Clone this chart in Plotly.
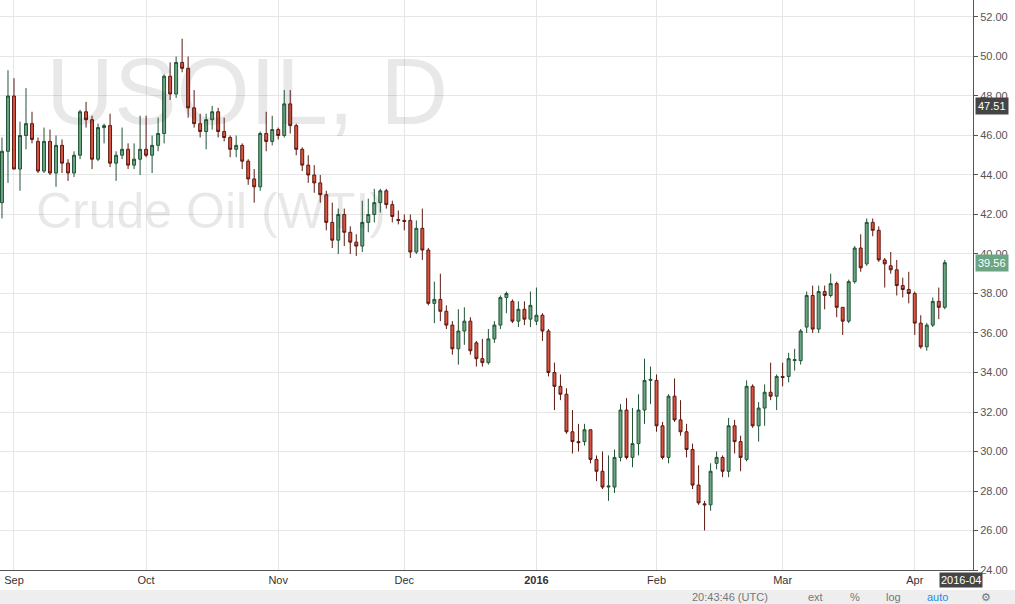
import plotly.graph_objects as go

opens = [42.6,45.2,48.0,44.3,46.0,46.6,45.7,44.2,45.7,44.1,45.5,44.6,44.1,45.0,47.2,46.8,44.8,46.4,46.5,44.6,
 45.0,45.3,44.5,44.8,45.3,45.0,45.5,46.1,49.0,48.1,49.7,49.4,47.4,46.6,46.2,46.8,47.2,46.2,45.9,45.3,
 45.5,44.7,43.8,43.4,46.1,45.7,46.3,46.0,47.6,46.5,45.3,44.5,44.0,43.6,43.0,41.6,40.7,42.0,41.1,40.6,
 40.4,41.6,42.0,42.6,43.2,42.5,41.75,41.7,41.7,40.1,41.3,40.2,37.5,37.7,37.1,36.4,35.2,36.1,36.6,35.5,
 34.7,34.5,35.7,36.4,37.8,37.6,36.6,37.2,36.7,36.6,36.9,36.1,34.0,33.3,32.9,31.0,30.5,30.5,31.1,29.6,
 29.0,28.2,28.2,29.7,32.1,29.7,30.4,32.1,33.6,33.6,31.3,29.7,32.8,31.6,31.0,30.1,28.3,27.35,27.3,29.4,
 29.7,29.0,31.3,30.5,29.6,33.3,31.3,32.2,33.0,32.8,33.8,33.8,34.6,34.6,36.3,37.9,36.2,38.1,37.9,38.5,
 37.3,36.6,38.6,40.3,39.5,41.6,41.2,39.7,39.4,39.2,38.4,38.2,38.0,36.5,35.3,36.4,37.6,37.3]
closes = [45.2,48.0,44.3,46.0,46.6,45.8,44.2,45.7,44.1,45.5,44.6,44.1,45.0,47.2,46.8,44.8,46.4,46.5,44.6,45.0,
 45.3,44.5,44.8,45.3,45.0,45.5,46.1,49.0,48.1,49.7,49.4,47.4,46.6,46.2,46.8,47.2,46.2,45.9,45.3,45.5,
 44.7,43.8,43.4,46.1,45.7,46.3,46.0,47.6,46.5,45.3,44.5,44.0,43.6,43.0,41.6,40.7,42.0,41.1,40.6,40.4,
 41.6,42.0,42.6,43.2,42.5,41.9,41.7,41.65,40.1,41.3,40.2,37.5,37.7,37.1,36.4,35.2,36.1,36.6,35.1,34.7,
 34.5,35.7,36.4,37.8,38.0,36.6,37.2,36.7,37.4,36.9,36.1,34.0,33.3,32.9,31.0,30.5,30.45,31.1,29.6,29.0,
 28.2,28.25,29.7,32.1,29.7,30.4,32.1,33.6,33.65,31.3,29.7,32.8,31.6,31.0,30.1,28.3,27.4,27.3,29.0,29.7,
 29.0,31.3,30.5,29.7,33.3,31.3,32.2,33.0,32.8,33.8,33.75,34.7,34.65,36.1,37.9,36.2,38.1,37.9,38.5,37.3,
 36.6,38.6,40.3,39.3,41.6,41.2,39.7,39.5,39.2,38.4,38.2,38.0,36.5,35.3,36.4,37.6,37.3,39.56]
highs = [45.9,49.3,48.9,46.7,48.4,47.2,45.9,46.4,46.3,46.0,45.8,44.8,45.2,47.3,47.7,47.0,46.6,46.6,47.1,45.2,
 46.4,45.6,45.6,47.0,47.0,46.0,46.9,49.1,49.7,50.0,50.9,50.0,48.3,47.1,47.1,47.5,47.4,46.9,46.0,46.0,
 45.6,44.8,44.3,46.2,47.2,47.0,46.4,48.3,48.3,46.6,45.4,45.0,44.5,44.0,43.2,42.6,42.3,42.3,41.4,41.0,
 42.7,42.8,43.3,43.3,43.3,42.7,42.2,42.0,42.0,41.7,42.3,40.3,38.6,39.0,37.4,36.6,37.2,37.3,36.8,35.6,
 35.7,36.2,36.6,37.9,38.1,37.7,37.6,37.6,38.1,38.3,37.0,36.2,34.5,33.9,33.2,32.1,31.4,31.4,31.1,29.8,
 30.0,29.8,30.1,32.4,32.7,32.2,32.9,34.7,34.3,33.9,31.5,32.9,33.7,32.6,31.4,30.4,29.3,27.5,29.4,30.0,
 29.8,31.7,31.6,30.8,33.6,33.4,32.5,33.4,34.5,33.9,34.5,35.0,35.2,36.2,38.1,38.4,38.4,38.4,39.0,38.6,
 37.3,38.7,40.4,41.0,41.8,41.8,41.4,39.8,40.1,39.7,38.8,39.1,38.1,36.9,36.5,37.8,38.3,39.7]
lows = [41.8,43.6,44.3,43.2,45.3,45.6,44.1,44.1,44.0,43.4,44.1,43.7,43.9,44.8,46.4,44.3,44.7,45.6,44.4,43.7,
 44.8,44.3,44.3,44.0,44.9,44.1,45.2,45.6,47.8,47.9,49.2,46.9,46.4,45.9,45.3,46.3,45.9,45.7,44.9,44.9,
 44.3,43.5,42.6,43.2,45.2,45.5,45.8,45.9,46.1,45.0,44.2,43.6,43.1,42.6,41.2,40.3,40.0,40.4,40.0,39.9,
 40.1,41.1,41.6,42.1,42.3,41.6,41.5,41.2,39.8,40.0,39.7,37.4,36.5,36.6,36.2,34.9,34.4,35.4,34.9,34.3,
 34.3,34.4,35.5,36.2,37.0,36.5,36.3,36.4,36.3,36.4,35.6,33.8,32.1,32.6,30.9,29.9,30.0,30.3,29.4,28.5,
 28.1,27.5,27.9,29.5,29.6,29.2,29.8,31.4,32.4,31.0,29.6,29.4,31.5,30.8,29.7,28.1,27.3,26.0,27.0,29.1,
 28.7,28.7,29.9,29.0,29.5,31.2,30.5,31.3,32.6,32.1,33.3,33.5,34.1,34.4,36.0,36.0,36.0,37.2,37.8,36.8,
 35.9,36.5,38.5,39.1,39.4,40.9,39.6,38.3,39.0,37.9,37.8,37.5,35.9,35.2,35.1,36.3,36.7,37.2]

month_labels = ["Sep", "Oct", "Nov", "Dec", "<b>2016</b>", "Feb", "Mar", "Apr"]
month_pos = [2, 24, 46, 67, 89, 109, 130, 152]
price_ticks = list(range(24, 54, 2))

idx = list(range(len(opens)))

fig = go.Figure()
fig.add_trace(go.Candlestick(
    x=idx, open=opens, high=highs, low=lows, close=closes,
    increasing=dict(fillcolor="#6ba583", line=dict(color="#225437", width=1)),
    decreasing=dict(fillcolor="#d75442", line=dict(color="#5b1a13", width=1)),
    whiskerwidth=0, hoverinfo="skip", showlegend=False))

fig.add_hline(y=47.51, line=dict(color="#999999", width=1, dash="dash"))
fig.add_hline(y=39.56, line=dict(color="#3c9a5a", width=1, dash="dot"))
fig.add_vline(x=159.7, line=dict(color="#aaaaaa", width=1, dash="dash"))

ann = [
    dict(x=0.045, y=0.84, text="USOIL, D", font=dict(size=94, color="rgba(0,0,0,0.09)")),
    dict(x=0.035, y=0.63, text="Crude Oil (WTI)", font=dict(size=50, color="rgba(0,0,0,0.09)")),
]
annotations = []
for a in ann:
    annotations.append(dict(xref="paper", yref="paper", x=a["x"], y=a["y"], text=a["text"],
                            showarrow=False, xanchor="left", yanchor="middle",
                            font=dict(family="Liberation Sans, Arial", **a["font"])))
for val, col in [(47.51, "#444444"), (39.56, "#6ba583")]:
    annotations.append(dict(xref="paper", yref="y", x=1.0, y=val, text=f"{val:.2f}",
                            showarrow=False, xanchor="left", yanchor="middle", xshift=2,
                            bgcolor=col, font=dict(color="white", size=11, family="Liberation Sans, Arial"),
                            borderpad=2))
annotations.append(dict(xref="x", yref="paper", x=159.7, y=0, yshift=-10, text="2016-04",
                        showarrow=False, bgcolor="#444444", font=dict(color="white", size=11),
                        yanchor="middle"))
for txt, xp, col in [("20:43:46 (UTC)", 770, "#777777"), ("ext", 825, "#777777"), ("%", 862, "#777777"),
                     ("log", 903, "#777777"), ("auto", 950, "#2a8ae0"), ("⚙", 993, "#777777")]:
    annotations.append(dict(xref="paper", yref="paper", x=xp / 973, y=0, yshift=-27, text=txt,
                            showarrow=False, font=dict(color=col, size=11), yanchor="middle"))

fig.update_layout(
    width=1015, height=604, margin=dict(l=0, r=42, t=0, b=34),
    paper_bgcolor="white", plot_bgcolor="white",
    font=dict(family="Liberation Sans, Arial", size=11, color="#555555"),
    annotations=annotations,
    shapes=[dict(type="rect", xref="paper", yref="paper", x0=-0.01, x1=1.1, y0=-0.035, y1=-0.07,
                 fillcolor="#eeeeee", line=dict(width=0), layer="below")],
    xaxis=dict(range=[-0.33, 161.7], rangeslider=dict(visible=False), tickmode="array",
               tickvals=month_pos, ticktext=month_labels, showgrid=True, gridcolor="#e6e6e6",
               zeroline=False, showline=True, linecolor="#555555", ticks="", tickfont=dict(size=11, color="#333333")),
    yaxis=dict(range=[24, 52.86], side="right", tickmode="array", tickvals=price_ticks,
               ticktext=[f"{v:.2f}" for v in price_ticks], showgrid=True, gridcolor="#e6e6e6",
               zeroline=False, showline=True, linecolor="#555555", ticks="outside", ticklen=4,
               tickcolor="#555555", tickfont=dict(size=11, color="#555555")),
)
fig.write_html("out.html", config={"displayModeBar": False},
               post_script="document.body.style.margin='0';document.body.style.overflow='hidden';")
